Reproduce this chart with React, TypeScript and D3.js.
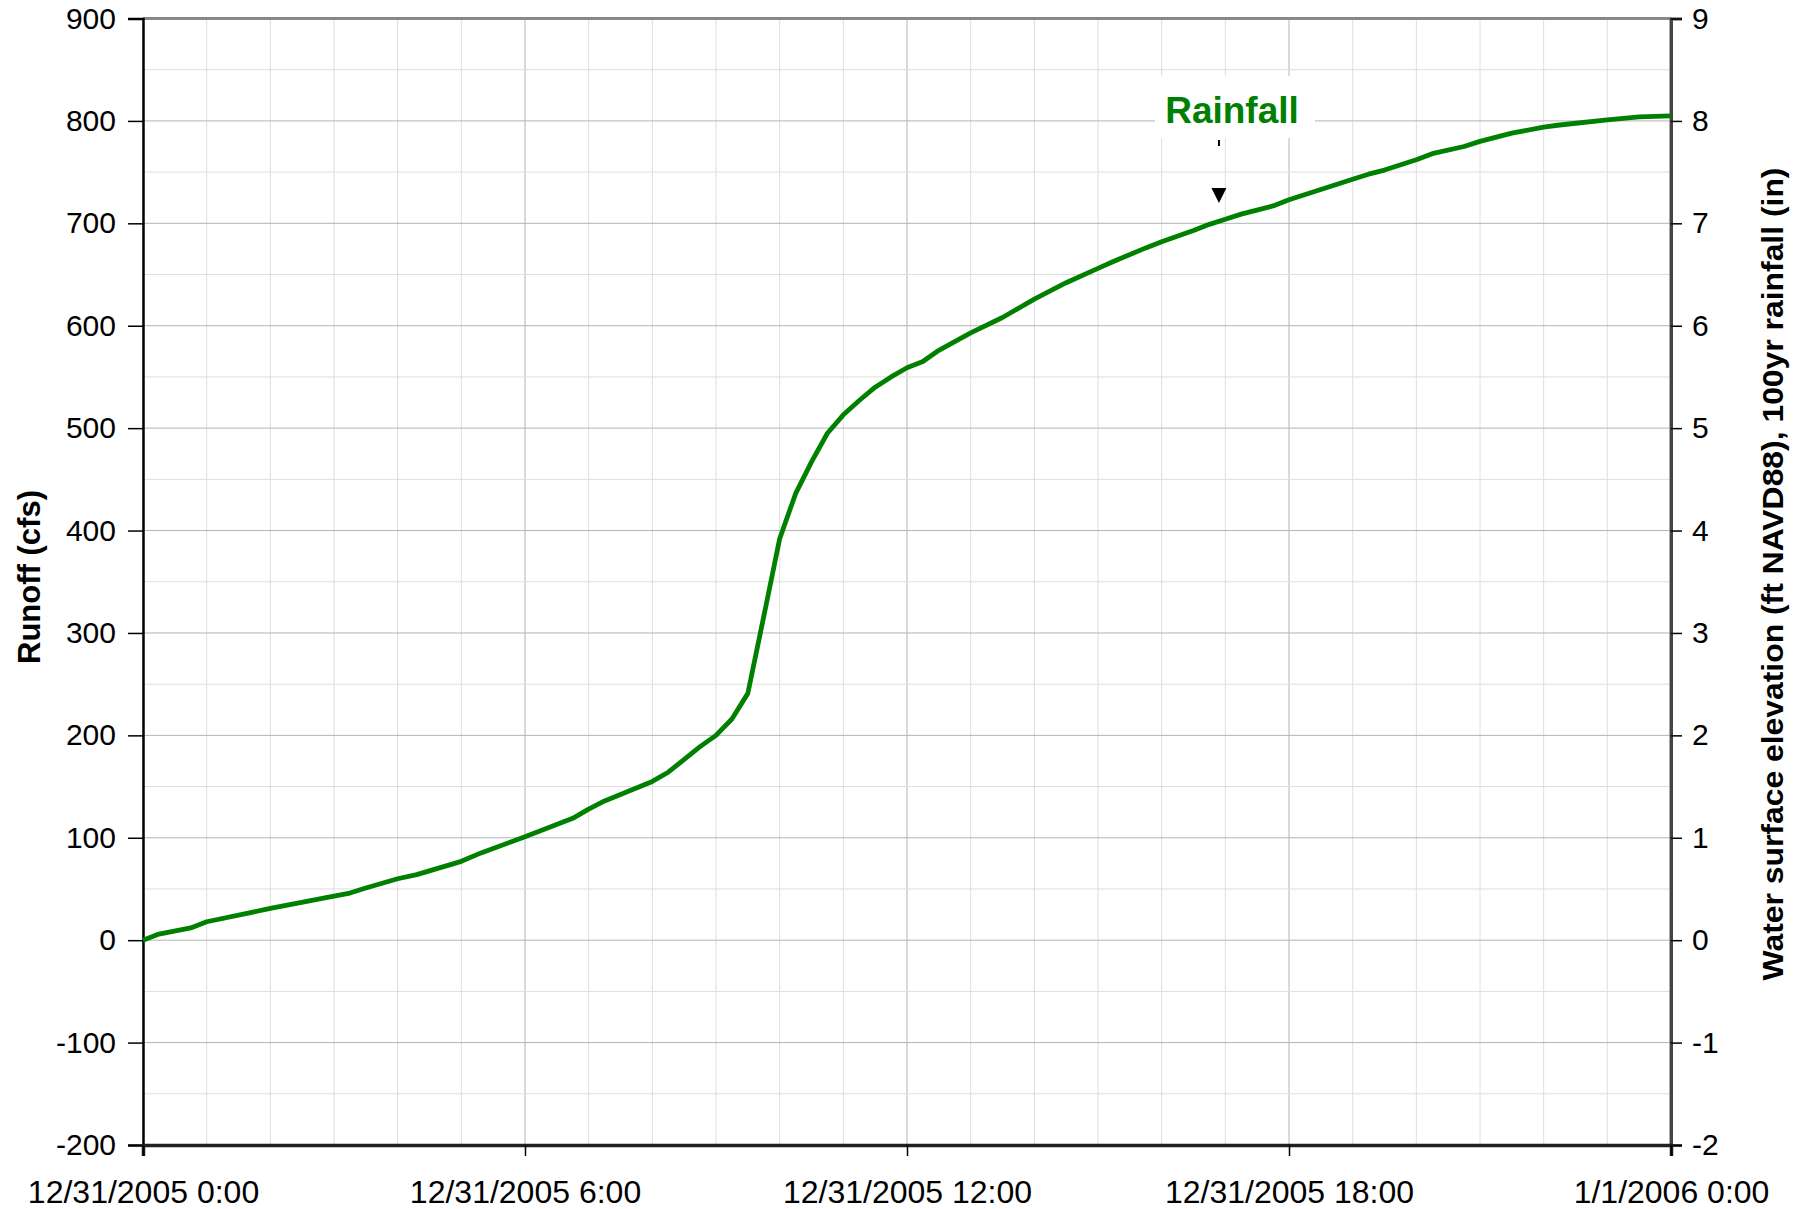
import { useEffect, useRef } from 'react';
import * as d3 from 'd3';

// hours after 12/31/2005 0:00
const hours = [
  0, 0.25, 0.75, 1, 2, 3, 3.25, 3.5, 4, 4.3, 5, 5.3, 6, 6.75, 7, 7.25, 8, 8.25, 8.75, 9,
  9.25, 9.5, 9.75, 10, 10.25, 10.5, 10.75, 11, 11.25, 11.5, 11.75, 12, 12.25, 12.5, 13, 13.5,
  14, 14.25, 14.5, 15, 15.25, 15.75, 16, 16.5, 16.75, 17, 17.25, 17.75, 18, 18.5, 19, 19.25,
  19.5, 20, 20.25, 20.75, 21, 21.5, 22, 22.25, 23, 23.5, 24,
];
// runoff (cfs)
const runoff = [
  0, 6, 12, 18, 31, 43, 46, 51, 60, 64, 77, 85, 101, 119, 128, 136, 155, 164, 189, 200,
  216, 241, 316, 392, 436, 467, 495, 513, 527, 540, 550, 559, 565, 576, 593, 608,
  626, 634, 642, 656, 663, 676, 682, 693, 699, 704, 709, 717, 723, 733, 743, 748,
  752, 762, 768, 775, 780, 788, 794, 796, 801, 804, 805,
];
const leftTicks = [-200, -100, 0, 100, 200, 300, 400, 500, 600, 700, 800, 900];
const rightTicks = [-2, -1, 0, 1, 2, 3, 4, 5, 6, 7, 8, 9];
const xTickHours = [0, 6, 12, 18, 24];
const annotation = { label: 'Rainfall', hour: 16.9 };

const W = 1808;
const H = 1209;
const FONT = '"Liberation Sans", Arial, sans-serif';

export default function App() {
  const svgRef = useRef<SVGSVGElement>(null);

  useEffect(() => {
    if (!svgRef.current) return;
    const svg = d3.select(svgRef.current);
    svg.selectAll('*').remove();

    const left = 143, right = 1671, top = 18.5, bottom = 1145;
    const t0 = new Date(2005, 11, 31, 0, 0);
    const toDate = (h: number) => new Date(t0.getTime() + h * 3600 * 1000);

    const x = d3.scaleTime().domain([toDate(0), toDate(24)]).range([left, right]);
    const y = d3.scaleLinear().domain([-200, 900]).range([bottom, top]);
    const y2 = d3.scaleLinear().domain([-2, 9]).range([bottom, top]);
    const fmt = d3.timeFormat('%-m/%-d/%Y %-H:%M');

    svg.append('rect').attr('width', W).attr('height', H).attr('fill', '#fff');

    // grid
    const grid = svg.append('g');
    d3.range(0, 25).forEach((h) => {
      const major = h % 6 === 0;
      grid.append('line')
        .attr('x1', x(toDate(h))).attr('x2', x(toDate(h)))
        .attr('y1', top).attr('y2', bottom)
        .attr('stroke', major ? '#b4b4b4' : '#dedede').attr('stroke-width', 1);
    });
    d3.range(-200, 901, 50).forEach((v) => {
      const major = v % 100 === 0;
      grid.append('line')
        .attr('x1', left).attr('x2', right)
        .attr('y1', y(v)).attr('y2', y(v))
        .attr('stroke', major ? '#b4b4b4' : '#dedede').attr('stroke-width', 1);
    });

    // frame
    svg.append('line').attr('x1', left).attr('x2', right).attr('y1', top).attr('y2', top)
      .attr('stroke', '#888').attr('stroke-width', 3);
    svg.append('line').attr('x1', right).attr('x2', right).attr('y1', top).attr('y2', bottom)
      .attr('stroke', '#555').attr('stroke-width', 3);

    // left axis
    const ga = svg.append('g').attr('transform', `translate(${left},0)`);
    ga.call(d3.axisLeft(y).tickValues(leftTicks).tickSize(15).tickPadding(12).tickFormat((d) => String(d)));
    ga.select('.domain').attr('stroke', '#000').attr('stroke-width', 2.5);
    ga.selectAll('.tick line').attr('stroke', '#000').attr('stroke-width', 1.5);
    ga.selectAll('.tick text').attr('font-family', FONT).attr('font-size', 30).attr('fill', '#000');

    // right axis
    const gr = svg.append('g').attr('transform', `translate(${right},0)`);
    gr.call(d3.axisRight(y2).tickValues(rightTicks).tickSize(11).tickPadding(10).tickFormat((d) => String(d)));
    gr.select('.domain').attr('stroke', '#444').attr('stroke-width', 3);
    gr.selectAll('.tick line').attr('stroke', '#000').attr('stroke-width', 1.5);
    gr.selectAll('.tick text').attr('font-family', FONT).attr('font-size', 30).attr('fill', '#000');

    // bottom axis
    const gb = svg.append('g').attr('transform', `translate(0,${bottom})`);
    gb.call(d3.axisBottom(x).tickValues(xTickHours.map(toDate)).tickSize(11).tickPadding(24)
      .tickFormat((d) => fmt(d as Date)));
    gb.select('.domain').attr('stroke', '#222').attr('stroke-width', 3.5);
    gb.selectAll('.tick line').attr('stroke', '#000').attr('stroke-width', 1.5);
    gb.selectAll('.tick text').attr('font-family', FONT).attr('font-size', 32).attr('fill', '#000');

    // axis titles
    svg.append('text')
      .attr('transform', `translate(40,577) rotate(-90)`)
      .attr('text-anchor', 'middle')
      .attr('font-family', FONT).attr('font-size', 31).attr('font-weight', 700)
      .text('Runoff (cfs)');
    svg.append('text')
      .attr('transform', `translate(1783,574) rotate(-90)`)
      .attr('text-anchor', 'middle')
      .attr('font-family', FONT).attr('font-size', 30).attr('font-weight', 700)
      .attr('textLength', 813).attr('lengthAdjust', 'spacingAndGlyphs')
      .text('Water surface elevation (ft NAVD88), 100yr rainfall (in)');

    // series
    const pts = hours.map((h, i) => ({ d: toDate(h), v: runoff[i] }));
    const line = d3.line<{ d: Date; v: number }>().x((p) => x(p.d)).y((p) => y(p.v));
    svg.append('path').datum(pts)
      .attr('d', line)
      .attr('fill', 'none')
      .attr('stroke', '#008000')
      .attr('stroke-width', 4.8)
      .attr('stroke-linejoin', 'round');

    // annotation
    const ax = x(toDate(annotation.hour));
    svg.append('rect').attr('x', 1155).attr('y', 76).attr('width', 160).attr('height', 62).attr('fill', '#fff');
    svg.append('text')
      .attr('x', 1232).attr('y', 123)
      .attr('text-anchor', 'middle')
      .attr('font-family', FONT).attr('font-size', 37).attr('font-weight', 700)
      .attr('fill', '#008000')
      .text(annotation.label);
    svg.append('line').attr('x1', ax).attr('x2', ax).attr('y1', 140).attr('y2', 146)
      .attr('stroke', '#000').attr('stroke-width', 2);
    svg.append('path')
      .attr('d', `M${ax - 7.5},188 L${ax + 7.5},188 L${ax},203 Z`)
      .attr('fill', '#000');
  }, []);

  return (
    <svg ref={svgRef} width={W} height={H}
      style={{ position: 'absolute', left: 0, top: 0, display: 'block' }} />
  );
}
